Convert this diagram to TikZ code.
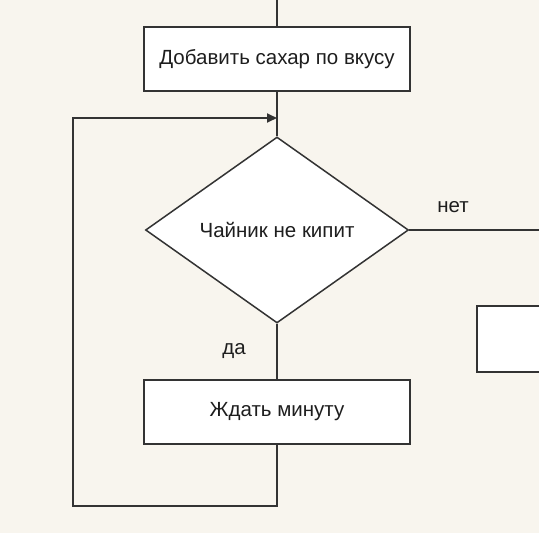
\documentclass[tikz,border=0pt]{standalone}
\usepackage{fontspec}
\setmainfont{Liberation Sans}
\usetikzlibrary{shapes.geometric,arrows.meta}
\definecolor{paper}{HTML}{F8F5EE}
\definecolor{ink}{HTML}{333333}
\definecolor{txt}{HTML}{1E1E1E}
\begin{document}
\begin{tikzpicture}[x=1pt,y=-1pt,
  line/.style={draw=ink,line width=1.8pt},
  stepbox/.style={rectangle,line,fill=white,inner sep=0pt,
    minimum width=266pt,minimum height=64pt,text=txt,font=\fontsize{20.5}{24}\selectfont},
  decision/.style={diamond,line,line width=1.5pt,fill=white,inner sep=0pt,aspect=1.42,
    minimum width=263pt,minimum height=186pt,text=txt,font=\fontsize{20.5}{24}\selectfont},
  lbl/.style={text=txt,inner sep=0pt,font=\fontsize{20.5}{24}\selectfont},
  flow/.style={line,-{Triangle[length=10pt,width=9pt]}}]
  % page and background
  \useasboundingbox (0,0) rectangle (539,533);
  \fill[paper] (0,0) rectangle (539,533);
  \clip (0,0) rectangle (539,533);

  % blocks
  \node[stepbox] (add) at (277,59) {\raisebox{-1.5pt}{Добавить сахар по вкусу}};
  \node[decision] (cond) at (277,230) {\raisebox{-2pt}{Чайник не кипит}};
  \node[stepbox] (wait) at (277,412) {\raisebox{-1.5pt}{Ждать минуту}};
  \node[stepbox,minimum width=90pt,minimum height=66pt,anchor=west] (next) at (476,339) {};

  % free ends and bends
  \coordinate (topin) at (277,0);
  \coordinate (merge) at (277,118);
  \coordinate (lb) at (73,506);
  \coordinate (noout) at (539,230);

  % connectors
  \draw[line] (topin) -- (add.north);
  \draw[line] (add.south) -- (cond.north);
  \draw[line] (cond.south) -- (wait.north);
  \draw[line] (cond.east) -- (noout);
  \draw[flow] (wait.south) |- (lb) |- (merge);

  % branch labels
  \node[lbl] (nolbl) at (453,207) {нет};
  \node[lbl] (yeslbl) at (234,351) {да};
\end{tikzpicture}
\end{document}
